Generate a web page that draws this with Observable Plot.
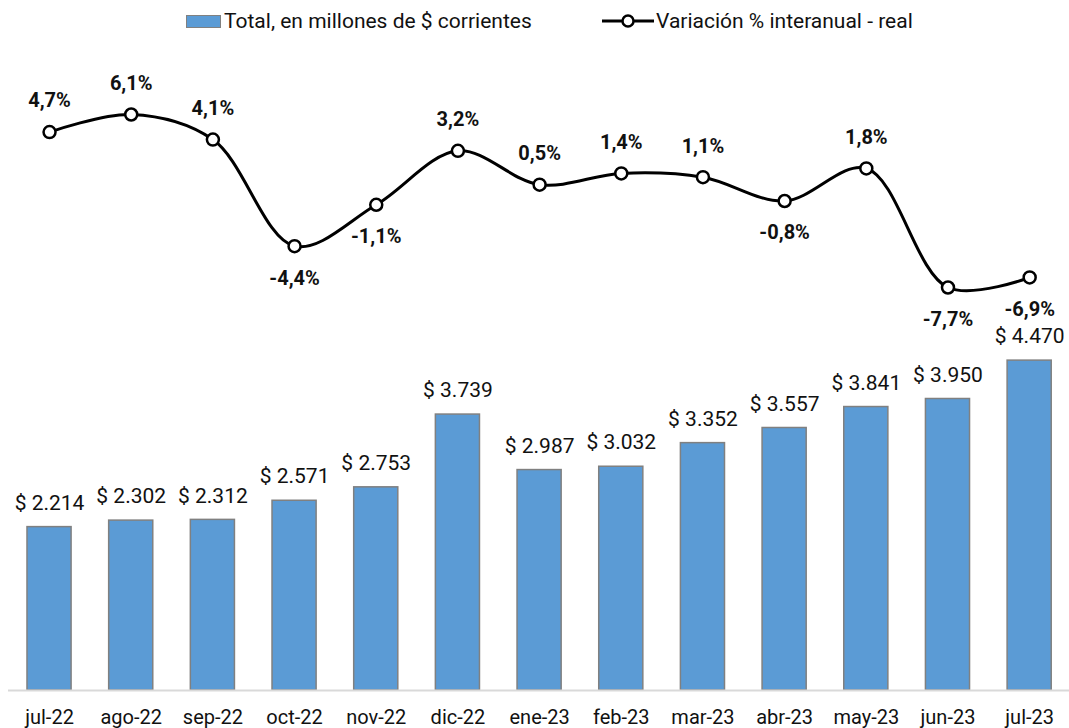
<!DOCTYPE html>
<html><head><meta charset="utf-8">
<script src="https://cdn.jsdelivr.net/npm/d3@7"></script>
<script src="https://cdn.jsdelivr.net/npm/@observablehq/plot@0.6"></script>
<style>
html,body{margin:0;padding:0;background:#fff;}
#wrap{position:relative;width:1069px;height:728px;font-family:Roboto,"Liberation Sans",sans-serif;}
#legend{position:absolute;left:0;top:0;width:1069px;height:40px;}
.li{position:absolute;top:8px;font-size:21px;color:#111;line-height:26px;white-space:nowrap;}
.plotl{position:absolute;left:0;top:40px;}
</style></head>
<body>
<div id="wrap">
  <div id="legend">
    <div class="li" style="left:186px;"><span style="display:inline-block;width:33px;height:11px;background:#5B9BD5;border:1.5px solid #808080;vertical-align:0px;margin-right:3px;"></span>Total, en millones de $ corrientes</div>
    <div class="li" style="left:602px;"><svg width="52" height="16" style="vertical-align:-1px;margin-right:2px"><line x1="0" y1="8" x2="52" y2="8" stroke="#000" stroke-width="3"/><circle cx="26" cy="8" r="5.5" fill="#fff" stroke="#000" stroke-width="2.5"/></svg>Variación % interanual - real</div>
  </div>
  <div id="bars" class="plotl"></div>
  <div id="line" class="plotl"></div>
</div>
<script>
const months = ["jul-22","ago-22","sep-22","oct-22","nov-22","dic-22","ene-23","feb-23","mar-23","abr-23","may-23","jun-23","jul-23"];
const totals = [2214,2302,2312,2571,2753,3739,2987,3032,3352,3557,3841,3950,4470];
const variation = [4.7,6.1,4.1,-4.4,-1.1,3.2,0.5,1.4,1.1,-0.8,1.8,-7.7,-6.9];

const W = 1069, H = 688;
const font = "Roboto, 'Liberation Sans', sans-serif";
const xScale = {type:"band", domain: months, range:[8.2, 1070], paddingInner:0.46, paddingOuter:0.23, round:false};

const barData = months.map((m,i)=>({m, v: totals[i]}));
const lineData = months.map((m,i)=>({m, p: variation[i]}));

const fmtMoney = v => "$ " + d3.format(",")(v).replace(/,/g, ".");
const fmtPct = p => d3.format(".1f")(p).replace(".", ",").replace("\u2212", "-") + "%";

const bars = Plot.plot({
  width: W, height: H,
  marginLeft: 8, marginRight: 0, marginTop: 0, marginBottom: 38,
  style: {fontFamily: font, fontSize: "20px", color:"#111", background:"transparent", overflow:"visible"},
  x: {...xScale, axis: null},
  y: {domain:[0,5000], range:[650,281], axis: null},
  marks: [
    Plot.barY(barData, {x:"m", y:"v", fill:"#5B9BD5", stroke:"#808080", strokeWidth:1.5}),
    Plot.ruleY([0], {stroke:"#d9d9d9", strokeWidth:2}),
    Plot.text(barData, {x:"m", y:"v", text: d=>fmtMoney(d.v), dy:-24, fontSize:21, fill:"#111"}),
    Plot.axisX({tickSize:0, tickPadding:19, fontSize:20, fill:"#111", label:null})
  ]
});
document.getElementById("bars").appendChild(bars);

const line = Plot.plot({
  width: W, height: H,
  marginLeft: 8, marginRight: 0, marginTop: 0, marginBottom: 38,
  style: {fontFamily: font, fontSize: "20px", background:"transparent", overflow:"visible"},
  x: {...xScale, axis: null},
  y: {domain:[-7.7, 6.1], range:[247, 74], axis: null},
  marks: [
    Plot.line(lineData, {x:"m", y:"p", stroke:"#000", strokeWidth:3, curve:"catmull-rom"}),
    Plot.dot(lineData, {x:"m", y:"p", r:6, fill:"#fff", stroke:"#000", strokeWidth:2.5}),
    Plot.text(lineData, {x:"m", y:"p", text: d=>fmtPct(d.p), fontSize:20, fontWeight:"bold", fill:"#111",
      filter: d=>d.p>=0, dy:-31}),
    Plot.text(lineData, {x:"m", y:"p", text: d=>fmtPct(d.p), fontSize:20, fontWeight:"bold", fill:"#111",
      filter: d=>d.p<0, dy:32})
  ]
});
line.style.pointerEvents = "none";
document.getElementById("line").appendChild(line);
</script>
</body></html>
